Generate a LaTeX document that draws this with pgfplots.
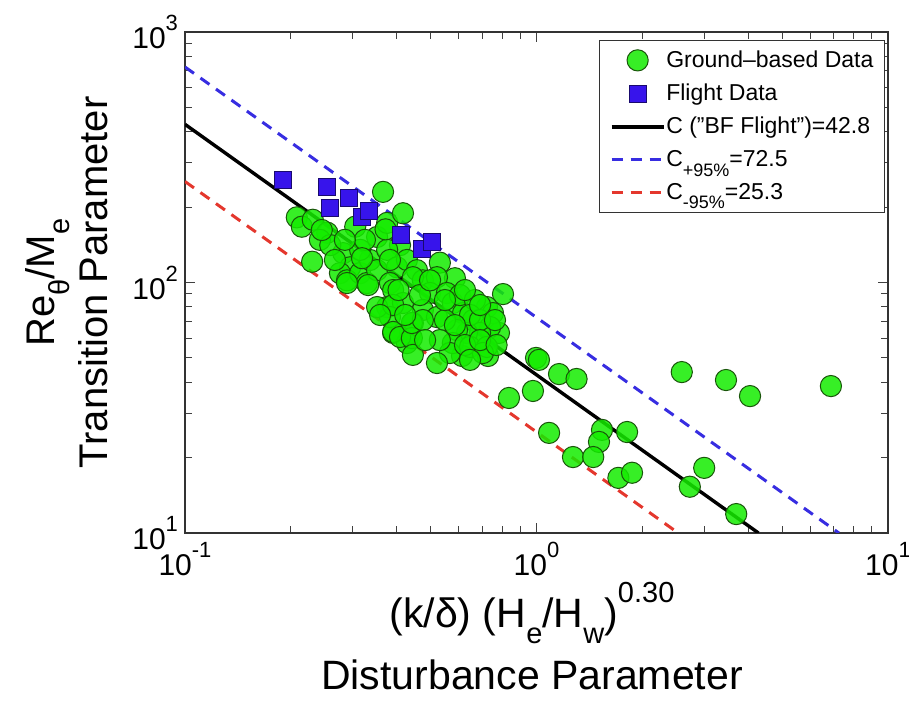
\documentclass[border=0pt]{standalone}
\usepackage{pgfplots}
\pgfplotsset{compat=1.18}
\usepackage{fontspec}
\setmainfont{Liberation Sans}

\definecolor{gfill}{RGB}{20,236,0}
\definecolor{gedge}{RGB}{25,85,10}
\definecolor{sqfill}{RGB}{55,20,235}
\definecolor{sqedge}{RGB}{25,10,110}
\definecolor{bdash}{RGB}{55,45,225}
\definecolor{rdash}{RGB}{228,55,45}

\newcommand{\tk}[2]{#1\raisebox{0.6em}{\fontsize{11}{11}\selectfont #2}}
\newcommand{\lo}[1]{\raisebox{-0.38em}{\fontsize{14.5}{14.5}\selectfont #1}}
\newcommand{\hi}[1]{\raisebox{0.62em}{\fontsize{14.5}{14.5}\selectfont #1}}
\newcommand{\lsub}[1]{\raisebox{-0.42em}{\fontsize{9}{9}\selectfont #1}}

\pgfplotstableread{
x y
0.586 104
0.803 89.9
0.997 50.0
1.016 49.1
1.159 43.1
1.30 41.2
0.835 34.6
0.977 36.9
2.59 43.9
3.46 40.8
4.05 35.2
6.88 38.6
1.086 25.1
1.536 25.8
1.506 23.1
1.81 25.3
1.27 20.1
1.45 20.1
1.71 16.6
1.87 17.4
2.73 15.3
3.00 18.2
3.70 11.9
0.782 62.9
0.728 50.9
0.614 50.9
0.366 230
0.208 182
0.215 167
0.231 178
0.254 158
0.242 148
0.230 121
0.282 131
0.295 115
0.276 109
0.289 102
0.315 109
0.329 99.5
0.336 123
0.305 167
0.352 152
0.376 173
0.417 189
0.409 141
0.376 135
0.352 112
0.401 115
0.383 99.5
0.428 123
0.457 112
0.475 102
0.372 163
0.383 123
0.531 120
0.521 105
0.445 105
0.391 93.3
0.376 79.8
0.417 82.8
0.498 90.8
0.556 90.8
0.578 82.8
0.475 77.7
0.521 72.8
0.618 75.5
0.660 70.8
0.723 79.8
0.752 75.5
0.738 66.4
0.691 62.9
0.634 62.9
0.594 64.6
0.578 57.3
0.647 55.3
0.723 55.3
0.704 52.3
0.567 52.3
0.391 62.9
0.437 62.9
0.428 57.3
0.521 47.7
0.445 68.9
0.383 72.8
0.289 99.5
0.332 97.7
0.352 79.8
0.391 81.3
0.359 74.2
0.391 63.5
0.409 60.6
0.442 60.0
0.442 68.9
0.475 70.8
0.259 141
0.267 123
0.315 135
0.325 148
0.466 89.1
0.606 89.1
0.668 85.1
0.647 74.2
0.549 70.8
0.531 58.9
0.626 56.3
0.691 70.8
0.445 51.4
0.498 102
0.549 85.1
0.626 93.3
0.691 81.3
0.762 70.8
0.586 67.6
0.482 58.9
0.423 74.2
0.405 93.3
0.319 125
0.285 148
0.245 162
0.691 58.9
0.770 56.3
0.647 49.1
}\ground

\pgfplotstableread{
x y
0.190 256
0.254 240
0.259 198
0.293 217
0.319 183
0.334 193
0.411 155
0.472 136
0.504 145
}\flight

\begin{document}
\begin{tikzpicture}
\useasboundingbox (-92.5pt,-84pt) rectangle (362pt,266.5pt);
\begin{axis}[
  xmode=log, ymode=log,
  scale only axis, width=351.5pt, height=250.5pt,
  xmin=0.1, xmax=10, ymin=10, ymax=1000,
  xtick={0.1,1,10},
  xticklabels={\tk{10}{-1},\tk{10}{0},\tk{10}{1}},
  ytick={10,100,1000},
  yticklabels={\tk{10}{1},\tk{10}{2},\tk{10}{3}},
  minor xtick={0.2,0.3,0.4,0.5,0.6,0.7,0.8,0.9,2,3,4,5,6,7,8,9},
  minor ytick={20,30,40,50,60,70,80,90,200,300,400,500,600,700,800,900},
  ticklabel style={font=\fontsize{15}{15}\selectfont},
  xticklabel style={yshift=-1pt},
  axis line style={line width=0.6pt, black!80},
  major tick length=5pt, minor tick length=3.5pt,
  every tick/.style={black!75, line width=0.5pt},
  tick align=inside,
  xlabel={(k/δ) (H\lo{e}/H\lo{w})\hi{0.30}\\[7pt]Disturbance Parameter},
  xlabel style={align=center, font=\fontsize{20.5}{22}\selectfont,
    at={(axis description cs:0.4936,-0.2056)}, anchor=center},
  ylabel={Re\lo{θ}/M\lo{e}\\[3pt]Transition Parameter},
  ylabel style={align=center, font=\fontsize{20}{22}\selectfont,
    at={(axis description cs:-0.1686,0.5)}, anchor=center},
  legend image code/.code={\draw[mark repeat=2,mark phase=2,#1] plot coordinates {(0pt,0pt) (13pt,0pt) (26pt,0pt)};},
  legend style={at={(rel axis cs:0.9957,0.984)}, anchor=north east,
    draw=black!80, line width=0.5pt, fill=white,
    font=\fontsize{11.5}{13}\selectfont, row sep=2.8pt,
    inner xsep=5pt, inner ysep=3pt,
    nodes={inner xsep=0.5pt}},
  legend cell align=left,
]
\addplot[only marks, mark=*, mark size=5.3pt,
  mark options={fill=gfill, fill opacity=0.85, draw=gedge, line width=0.5pt}] table {\ground};
\addlegendentry{Ground–based Data}
\addplot[only marks, mark=square*, mark size=4.3pt,
  mark options={fill=sqfill, draw=sqedge, line width=0.5pt}] table {\flight};
\addlegendentry{Flight Data}
\addplot[black, line width=1.7pt] coordinates {(0.1,428) (4.28,10)};
\addlegendentry{C ("BF Flight")=42.8}
\addplot[bdash, line width=1.5pt, dash pattern=on 5.5pt off 4pt] coordinates {(0.1,725) (7.25,10)};
\addlegendentry{C\lsub{+95\%}=72.5}
\addplot[rdash, line width=1.5pt, dash pattern=on 5.5pt off 4pt] coordinates {(0.1,253) (2.53,10)};
\addlegendentry{C\lsub{-95\%}=25.3}
\end{axis}
\end{tikzpicture}
\end{document}
